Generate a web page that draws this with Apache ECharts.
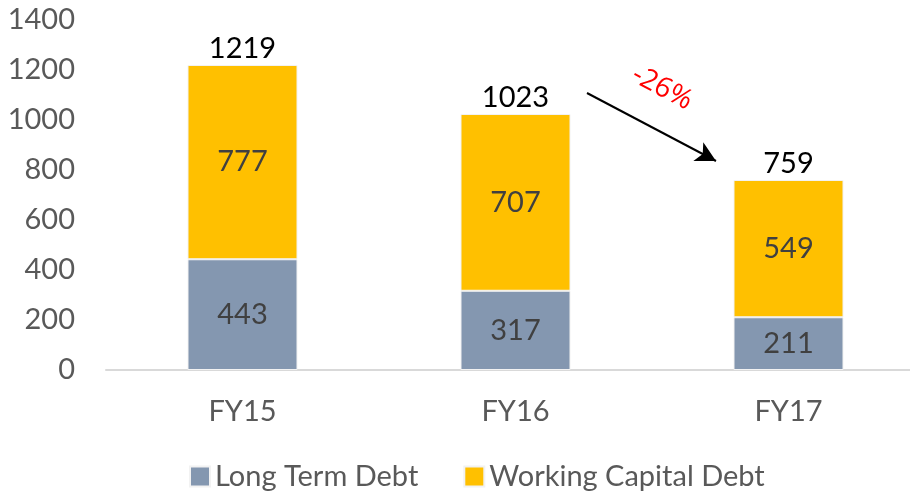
<!DOCTYPE html>
<html>
<head>
<meta charset="utf-8">
<script src="https://cdn.jsdelivr.net/npm/echarts@6/dist/echarts.min.js"></script>
<style>
  html, body { margin: 0; padding: 0; background: #fff; overflow: hidden; }
  /* plot runs slightly past the right edge of the window, as in the original */
  #chart { width: 925px; height: 491px; }
</style>
</head>
<body>
<div id="chart"></div>
<script>
// data
var categories = ["FY15", "FY16", "FY17"];
var longTermDebt = [443, 317, 211];
var workingCapitalDebt = [777, 707, 549];
var totals = [1219, 1023, 759];

var font = "Lato";
var fs = 29;

var chart = echarts.init(document.getElementById("chart"));
var option = {
  animation: false,
  textStyle: { fontFamily: font },
  grid: { left: 106, right: 0, top: 20, height: 350 },
  legend: {
    left: 184,
    top: 457,
    itemWidth: 20,
    itemHeight: 20,
    itemGap: 45,
    icon: "rect",
    textStyle: { fontFamily: font, fontSize: fs, color: "#595959" },
    data: ["Long Term Debt", "Working Capital Debt"],
  },
  xAxis: {
    type: "category",
    data: categories,
    axisLine: { lineStyle: { color: "#d9d9d9", width: 2 } },
    axisTick: { show: false },
    axisLabel: { fontFamily: font, fontSize: fs, color: "#595959", margin: 27 },
  },
  yAxis: {
    type: "value",
    min: 0,
    max: 1400,
    interval: 200,
    splitLine: { show: false },
    axisLine: { show: false },
    axisTick: { show: false },
    axisLabel: {
      fontFamily: font,
      fontSize: fs,
      color: "#595959",
      margin: 31,
      formatter: function (v) { return String(v); },
    },
  },
  series: [
    {
      name: "Long Term Debt",
      type: "bar",
      stack: "debt",
      barWidth: 110,
      data: longTermDebt,
      itemStyle: { color: "#8497B0", borderColor: "#f2f2f2", borderWidth: 1 },
      label: { show: true, position: "inside", fontFamily: font, fontSize: fs, color: "#404040" },
    },
    {
      name: "Working Capital Debt",
      type: "bar",
      stack: "debt",
      barWidth: 110,
      data: workingCapitalDebt,
      itemStyle: { color: "#FFC000", borderColor: "#f2f2f2", borderWidth: 1 },
      label: { show: true, position: "inside", fontFamily: font, fontSize: fs, color: "#404040" },
    },
    {
      // totals above each stack
      name: "Total",
      type: "bar",
      stack: "debt",
      barWidth: 110,
      data: totals.map(function () { return 0; }),
      itemStyle: { color: "transparent" },
      label: {
        show: true,
        position: "top",
        distance: 2,
        fontFamily: font,
        fontSize: fs,
        color: "#000",
        formatter: function (p) { return totals[p.dataIndex]; },
      },
      markLine: {
        silent: true,
        symbol: ["none", "arrow"],
        symbolSize: [16, 20],
        label: { show: false },
        lineStyle: { color: "#000", width: 2, type: "solid" },
        data: [[{ x: 587, y: 93 }, { x: 716, y: 161 }]],
      },
    },
  ],
  graphic: [
    {
      type: "text",
      x: 662,
      y: 88,
      rotation: -28 * Math.PI / 180,
      style: {
        text: "-26%",
        fill: "#FF0000",
        font: "28px 'Open Sans'",
        align: "center",
        verticalAlign: "middle",
      },
    },
  ],
};
chart.setOption(option);
</script>
</body>
</html>
